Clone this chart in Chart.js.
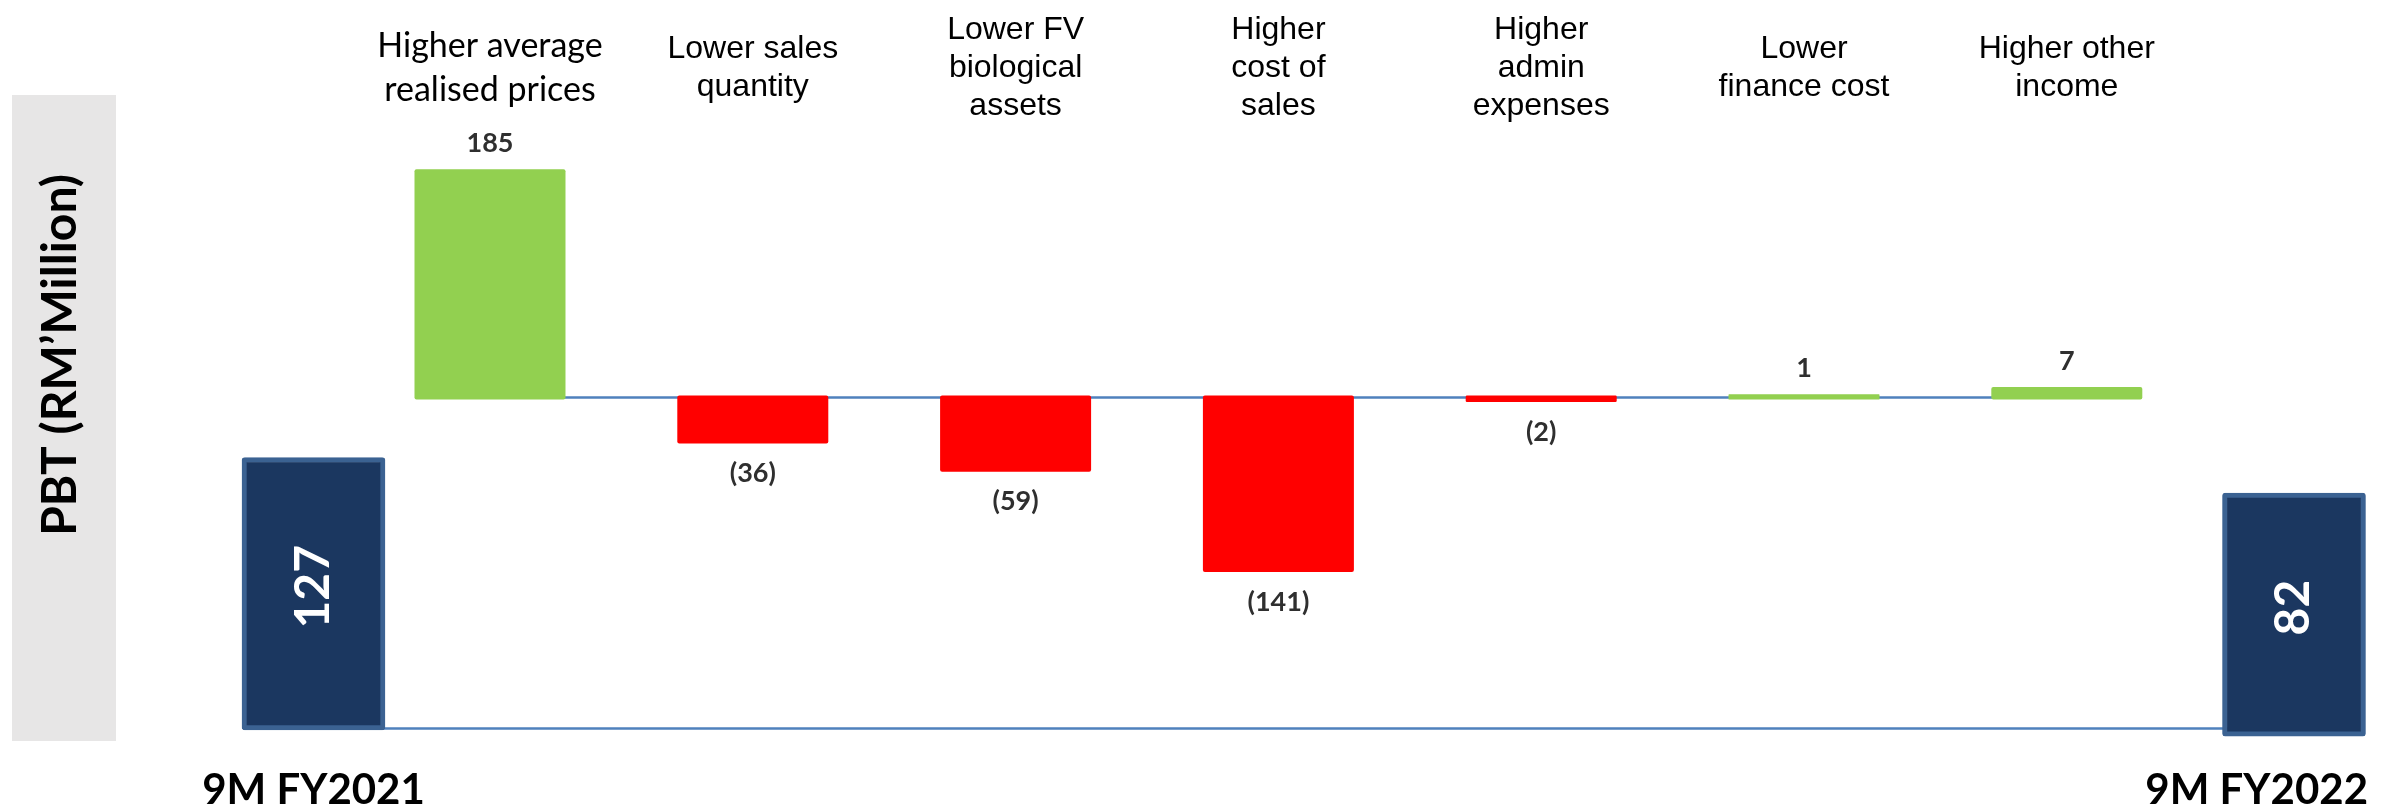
<!DOCTYPE html>
<html>
<head>
<meta charset="utf-8">
<title>PBT bridge 9M FY2021 to 9M FY2022</title>
<script src="https://cdn.jsdelivr.net/npm/chart.js@4.4.1/dist/chart.umd.min.js"></script>
<style>
  html, body { margin: 0; padding: 0; background: #ffffff; }
  #wrap { width: 2394px; height: 809px; }
</style>
</head>
<body>
<div id="wrap"><canvas id="pbt" width="2394" height="809"></canvas></div>
<script>
// PBT bridge (RM million): opening period, the drivers of change, closing period
const drivers = [
  ['Higher average', 'realised prices'],
  ['Lower sales', 'quantity'],
  ['Lower FV', 'biological', 'assets'],
  ['Higher', 'cost of', 'sales'],
  ['Higher', 'admin', 'expenses'],
  ['Lower', 'finance cost'],
  ['Higher other', 'income']
];
const driverImpact = [185, -36, -59, -141, -2, 1, 7];
const periods = ['9M FY2021', '9M FY2022'];
const openingPBT = [127, null];
const closingPBT = [null, 82];
const axisTitle = 'PBT (RM\u2019Million)';

const GREEN = '#92d050';
const RED = '#ff0000';
const NAVY = '#1b3760';
const NAVY_EDGE = '#3b6292';
const LINK = '#4f81bd';
const LABEL_GREY = '#2f2f2f';

const fmtImpact = v => (v < 0 ? '(' + Math.abs(v) + ')' : String(v));

// Title panel, connector lines and all text are drawn around the bars
const bridgeDecor = {
  id: 'bridgeDecor',
  beforeDraw(chart) {
    const c = chart.ctx;
    c.save();
    c.fillStyle = '#e7e6e6';
    c.fillRect(12, 95, 104, 646);
    c.translate(61, 355);
    c.rotate(-Math.PI / 2);
    c.font = 'bold 48px Lato';
    c.fillStyle = '#000000';
    c.textAlign = 'center';
    c.textBaseline = 'middle';
    c.fillText(axisTitle, 0, 0);
    c.restore();
  },
  beforeDatasetsDraw(chart) {
    const c = chart.ctx;
    const bars = chart.getDatasetMeta(0).data;
    const y0 = chart.scales.y.getPixelForValue(0);
    c.save();
    c.strokeStyle = LINK;
    c.lineWidth = 2.5;
    c.beginPath();
    c.moveTo(bars[0].x, y0);
    c.lineTo(bars[bars.length - 1].x, y0);
    c.stroke();
    const open = chart.getDatasetMeta(1).data[0];
    const close = chart.getDatasetMeta(2).data[1];
    const yb = chart.scales.yOpen.getPixelForValue(0) - 1.5;
    c.beginPath();
    c.moveTo(open.x, yb);
    c.lineTo(close.x, yb);
    c.stroke();
    c.restore();
  },
  afterDatasetsDraw(chart) {
    const c = chart.ctx;
    const meta = chart.getDatasetMeta(0);
    c.save();
    c.textAlign = 'center';
    c.textBaseline = 'middle';

    // value above / below each driver bar
    c.font = 'bold 27px Lato';
    c.fillStyle = LABEL_GREY;
    meta.data.forEach((bar, i) => {
      const v = driverImpact[i];
      const y = v < 0 ? bar.y + 32 : bar.y - 28;
      c.fillText(fmtImpact(v), bar.x, y);
    });

    // driver names across the top
    c.fillStyle = '#000000';
    drivers.forEach((lines, i) => {
      const x = meta.data[i].x;
      const lead = i === 0;
      c.font = lead ? '34px Lato' : '32px "Liberation Sans"';
      const lh = lead ? 44 : 38;
      const top = 68 - (lines.length - 1) * lh / 2;
      lines.forEach((t, k) => c.fillText(t, x, top + k * lh));
    });

    // totals inside the navy bars
    [[1, 0, openingPBT[0]], [2, 1, closingPBT[1]]].forEach(([ds, idx, v]) => {
      const bar = chart.getDatasetMeta(ds).data[idx];
      c.save();
      c.translate(bar.x, (bar.y + bar.base) / 2 - 7);
      c.rotate(-Math.PI / 2);
      c.font = 'bold 48px Lato';
      c.fillStyle = '#ffffff';
      c.fillText(String(v), 0, 0);
      c.restore();
    });

    // period names under the navy bars
    c.font = 'bold 42px Lato';
    c.fillStyle = '#000000';
    periods.forEach((p, i) => {
      const x = chart.scales.x2.getPixelForValue(i);
      const w = c.measureText(p).width;
      const cx = Math.min(Math.max(x, w / 2 + 12), chart.width - w / 2 - 26);
      c.fillText(p, cx, 790);
    });
    c.restore();
  }
};

new Chart(document.getElementById('pbt'), {
  type: 'bar',
  data: {
    datasets: [
      {
        label: 'Change',
        xAxisID: 'x',
        yAxisID: 'y',
        data: driverImpact.map((v, i) => ({ x: i, y: v })),
        backgroundColor: ctx => (driverImpact[ctx.dataIndex] < 0 ? RED : GREEN),
        borderWidth: 0,
        borderRadius: 2,
        borderSkipped: false,
        inflateAmount: 2,
        barThickness: 147,
        grouped: false,
        clip: false
      },
      {
        label: periods[0],
        xAxisID: 'x2',
        yAxisID: 'yOpen',
        data: openingPBT,
        backgroundColor: NAVY,
        borderColor: NAVY_EDGE,
        borderWidth: 5,
        borderRadius: 3,
        borderSkipped: false,
        barThickness: 143,
        grouped: false,
        clip: false
      },
      {
        label: periods[1],
        xAxisID: 'x2',
        yAxisID: 'yClose',
        data: closingPBT,
        backgroundColor: NAVY,
        borderColor: NAVY_EDGE,
        borderWidth: 5,
        borderRadius: 3,
        borderSkipped: false,
        barThickness: 143,
        grouped: false,
        clip: false
      }
    ]
  },
  options: {
    responsive: false,
    animation: false,
    devicePixelRatio: 1,
    layout: { padding: { left: 313.5, right: 100, top: 0, bottom: 0 } },
    plugins: {
      legend: { display: false },
      tooltip: { enabled: false }
    },
    scales: {
      x: { type: 'linear', display: false, offset: false, min: -0.6716, max: 6.8645 },
      x2: { type: 'category', labels: periods, offset: false, display: false },
      y: { display: false, min: -336.3, max: 324.9 },
      yOpen: { display: false, min: -36.8, max: 340.2 },
      yClose: { display: false, min: -24.6, max: 248.4 }
    }
  },
  plugins: [bridgeDecor]
});
</script>
</body>
</html>
